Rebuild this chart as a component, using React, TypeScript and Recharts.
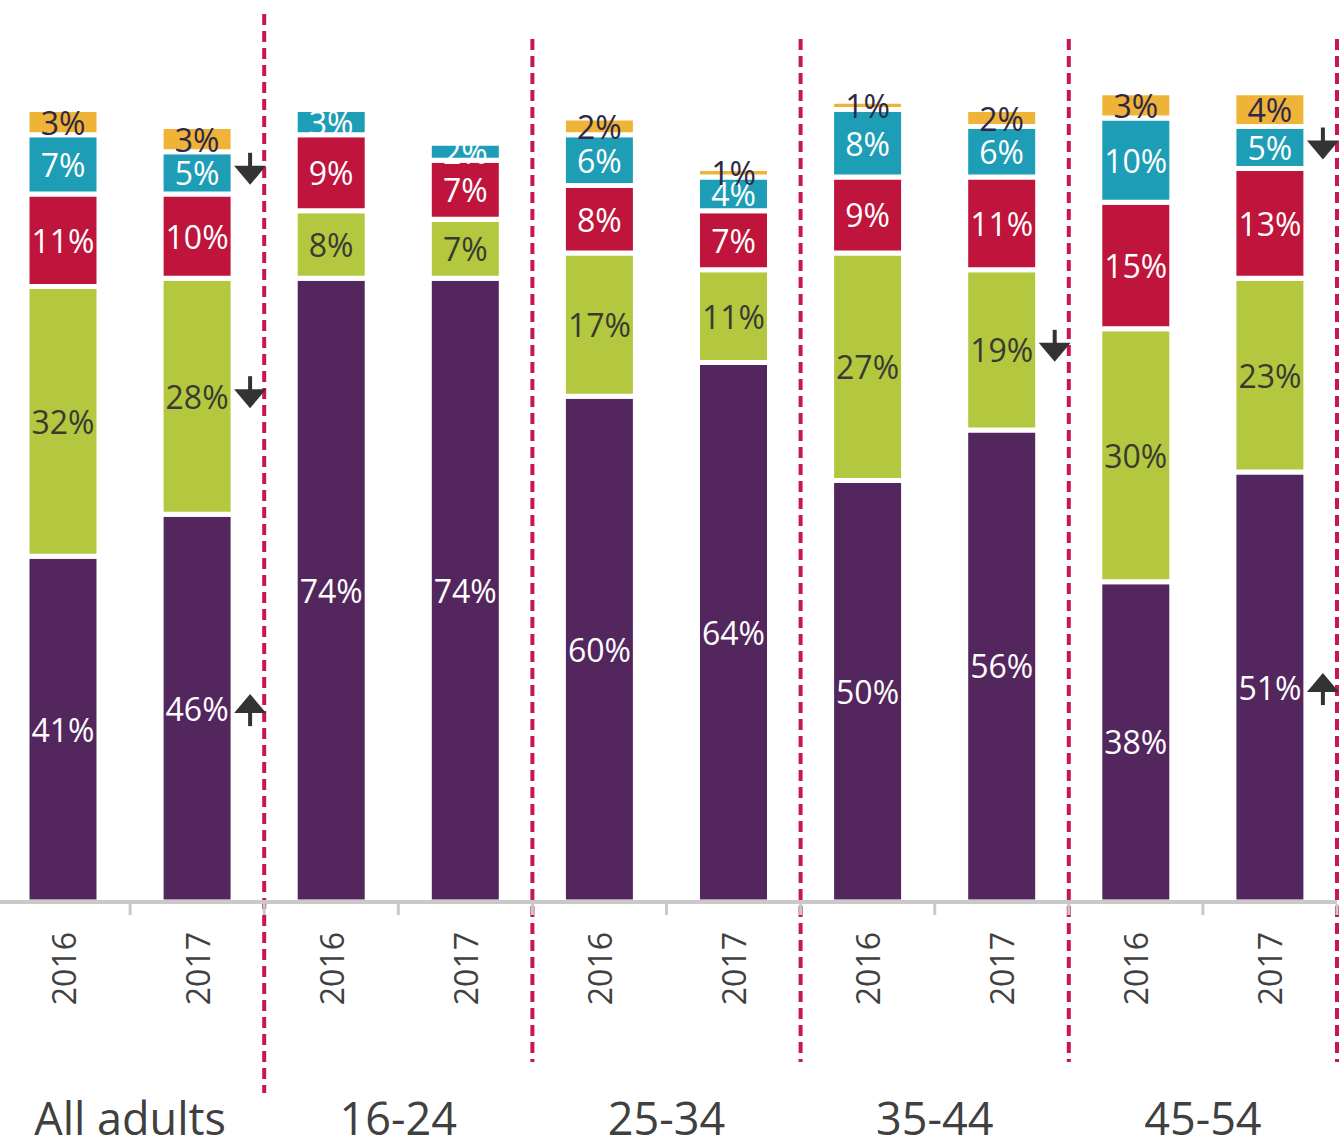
import { BarChart, Bar, XAxis, YAxis, LabelList, ReferenceLine } from "recharts";

const groups = ["All adults", "16-24", "25-34", "35-44", "45-54"];
const years = ["2016", "2017"];

// stacked bottom -> top
const purple = [41, 46, 74, 74, 60, 64, 50, 56, 38, 51];
const green = [32, 28, 8, 7, 17, 11, 27, 19, 30, 23];
const red = [11, 10, 9, 7, 8, 7, 9, 11, 15, 13];
const teal = [7, 5, 3, 2, 6, 4, 8, 6, 10, 5];
const amber = [3, 3, 0, 0, 2, 1, 1, 2, 3, 4];

// significant change markers (2017 vs 2016)
const purpleSig = ["", "up", "", "", "", "", "", "", "", "up"];
const greenSig = ["", "down", "", "", "", "", "", "down", "", ""];
const tealSig = ["", "down", "", "", "", "", "", "", "", "down"];

const rows = groups.flatMap((g, gi) =>
  years.map((yr, yi) => {
    const i = gi * 2 + yi;
    return {
      key: `${g} ${yr}`,
      group: g,
      year: yr,
      purple: purple[i],
      green: green[i],
      red: red[i],
      teal: teal[i],
      amber: amber[i],
    };
  })
);

const FONT = "'Open Sans', 'Noto Sans', sans-serif";
const TEXT = "#404040";
const DASH = "#C8174A";

function Arrow({ x, y, dir }: { x: number; y: number; dir: string }) {
  if (dir === "down") {
    return (
      <g fill="#333">
        <rect x={x - 2} y={y - 20} width={4} height={14} />
        <polygon points={`${x - 16},${y - 7} ${x + 16},${y - 7} ${x},${y + 12}`} />
      </g>
    );
  }
  return (
    <g fill="#333">
      <rect x={x - 2} y={y + 4} width={4} height={14} />
      <polygon points={`${x - 16},${y + 5} ${x + 16},${y + 5} ${x},${y - 14}`} />
    </g>
  );
}

const makeLabel = (color: string, sig?: string[]) => (props: any) => {
  const { x, y, width, height, value, index } = props;
  if (!value) return null;
  const cx = Number(x) + Number(width) / 2;
  const cy = Number(y) + Number(height) / 2;
  const s = sig ? sig[index] : "";
  return (
    <g>
      <text
        x={cx}
        y={cy}
        textAnchor="middle"
        dominantBaseline="central"
        fontFamily={FONT}
        fontSize={32}
        fill={color}
      >
        {`${value}%`}
      </text>
      {s ? <Arrow x={cx + 53} y={cy} dir={s} /> : null}
    </g>
  );
};

function YearTick(props: any) {
  const { x, y, payload } = props;
  const row = rows[payload.index] ?? rows[0];
  const off = payload.offset ?? 67;
  const ty = y + 30;
  return (
    <g>
      <line x1={x + off} x2={x + off} y1={y + 2} y2={y + 13} stroke="#c9c9c9" strokeWidth={3} />
      <text
        x={x}
        y={ty}
        transform={`rotate(-90, ${x}, ${ty})`}
        textAnchor="end"
        dominantBaseline="central"
        fontFamily={FONT}
        fontSize={32}
        fill={TEXT}
      >
        {row.year}
      </text>
      {row.year === years[0] ? (
        <text
          x={x + off}
          y={y + 233}
          textAnchor="middle"
          fontFamily={FONT}
          fontSize={45}
          fill={TEXT}
        >
          {row.group}
        </text>
      ) : null}
    </g>
  );
}

const dashShape = (first: boolean) => (p: any) => {
  const top = Math.min(p.y1, p.y2) - (first ? 45 : 20);
  const bottom = Math.max(p.y1, p.y2) + (first ? 191 : 160);
  return (
    <line x1={p.x1} x2={p.x1} y1={top} y2={bottom} stroke={DASH} strokeWidth={4} strokeDasharray="11 6" />
  );
};

export default function App() {
  const bar = { stackId: "a", stroke: "#fff", strokeWidth: 5, barSize: 72, isAnimationActive: false };
  return (
    <div style={{ position: "absolute", left: 0, top: 0, background: "#fff" }}>
      <BarChart
        width={1344}
        height={1147}
        data={rows}
        margin={{ top: 59, right: 7, bottom: 0, left: -4 }}
        barCategoryGap={0}
      >
        <XAxis
          dataKey="key"
          height={245}
          interval={0}
          tickLine={false}
          tickSize={0}
          tickMargin={0}
          axisLine={{ stroke: "#c9c9c9", strokeWidth: 4 }}
          tick={<YearTick />}
        />
        <YAxis hide domain={[0, 100]} />
        <Bar dataKey="purple" fill="#54265E" {...bar}>
          <LabelList dataKey="purple" content={makeLabel("#ffffff", purpleSig)} />
        </Bar>
        <Bar dataKey="green" fill="#B4C83F" {...bar}>
          <LabelList dataKey="green" content={makeLabel("#3a3a32", greenSig)} />
        </Bar>
        <Bar dataKey="red" fill="#BF143B" {...bar}>
          <LabelList dataKey="red" content={makeLabel("#ffffff")} />
        </Bar>
        <Bar dataKey="teal" fill="#1E9DB6" {...bar}>
          <LabelList dataKey="teal" content={makeLabel("#ffffff", tealSig)} />
        </Bar>
        <Bar dataKey="amber" fill="#EFB437" {...bar}>
          <LabelList dataKey="amber" content={makeLabel("#2e2848")} />
        </Bar>
        {rows
          .filter((_, i) => i % 2 === 1)
          .map((r, k) => (
            <ReferenceLine
              key={r.key}
              x={r.key}
              position="end"
              ifOverflow="visible"
              shape={dashShape(k === 0)}
            />
          ))}
      </BarChart>
    </div>
  );
}
